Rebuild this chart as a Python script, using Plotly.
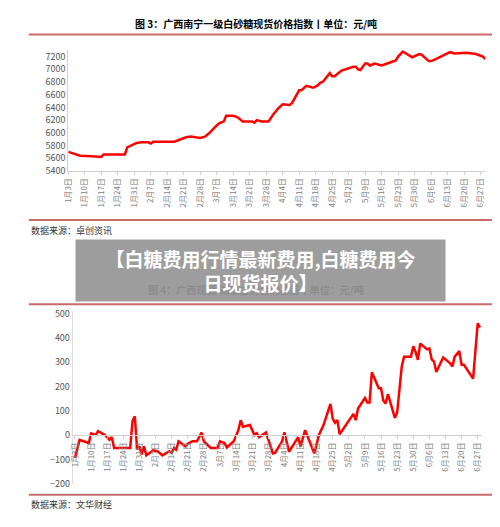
import plotly.graph_objects as go
import pandas as pd

# 广西南宁一级白砂糖现货价格指数 (day offset from 2022-01-03, value)
p_day = [0, 5, 10, 14, 15, 24, 25, 27, 29, 31, 34, 35, 36, 45, 48, 50, 52, 56, 58, 60, 62,
         64, 66, 67, 70, 72, 74, 78, 79, 80, 82, 85, 87, 89, 91, 94, 95, 98, 99, 101, 104,
         106, 107, 108, 111, 112, 113, 115, 116, 121, 122, 123, 124, 126, 127, 128, 130, 133,
         134, 136, 139, 140, 142, 143, 146, 149, 150, 153, 154, 156, 157, 161, 162, 164, 167,
         169, 173, 176, 177]
p_val = [5700, 5640, 5630, 5620, 5660, 5660, 5770, 5800, 5840, 5850, 5850, 5830, 5860, 5860,
         5900, 5930, 5940, 5920, 5940, 6000, 6080, 6150, 6180, 6270, 6270, 6240, 6180, 6180,
         6160, 6200, 6180, 6180, 6290, 6380, 6450, 6440, 6470, 6670, 6670, 6740, 6710, 6750,
         6790, 6800, 6940, 6890, 6890, 6960, 6980, 7040, 7040, 7000, 6990, 7090, 7090, 7060,
         7090, 7060, 7070, 7100, 7140, 7200, 7280, 7260, 7190, 7240, 7230, 7130, 7130, 7160,
         7180, 7260, 7270, 7250, 7260, 7260, 7240, 7200, 7160]

# 广西现货-郑糖主力合约基差
b_day = [0, 2, 6, 7, 9, 10, 13, 15, 16, 17, 24, 25, 26, 27, 28, 29, 30, 31, 34, 36, 38, 41,
         42, 43, 44, 45, 48, 49, 51, 53, 55, 56, 59, 62, 63, 65, 66, 69, 71, 72, 73, 76, 78,
         79, 80, 83, 86, 87, 90, 91, 93, 97, 98, 100, 104, 106, 108, 111, 112, 113, 114, 115,
         121, 122, 123, 126, 127, 128, 129, 132, 133, 134, 135, 136, 139, 140, 142, 143, 146,
         147, 148, 149, 150, 153, 154, 155, 156, 157, 160, 163, 164, 165, 167, 168, 169, 173,
         175, 176]
b_val = [-93, -19, -32, 8, 1, 17, 1, -19, -8, -52, -52, 58, 78, -58, -46, -79, -46, -83, -62,
         -66, -83, -66, -72, -52, -59, -25, -46, -35, -25, -25, 11, -25, -52, -52, -25, -32,
         -50, -25, 21, 62, 35, 42, 1, 8, -8, 11, -75, -72, -25, 12, -68, -8, -46, 21, -75, 1,
         42, 129, 68, 51, 62, 4, 88, 62, 110, 153, 135, 135, 259, 193, 193, 142, 131, 169, 71,
         95, 283, 323, 323, 366, 343, 310, 377, 353, 357, 312, 303, 260, 320, 296, 283, 323,
         346, 290, 290, 233, 460, 444]

tick_dates = pd.date_range("2022-01-03", "2022-06-27", freq="7D")
tick_text = [f"{d.month}月{d.day}日" for d in tick_dates]

start = pd.Timestamp("2022-01-03")
p_x = [start + pd.Timedelta(days=d) for d in p_day]
b_x = [start + pd.Timedelta(days=d) for d in b_day]

H = 527
def py(px):
    return 1 - px / H

cjk = "Noto Sans CJK SC"
red = "#ff0000"
rule = "#c76b6b"
tickfont = dict(family=cjk, size=8, color="#808080")

fig = go.Figure()
fig.add_trace(go.Scatter(x=p_x, y=p_val, mode="lines", line=dict(color=red, width=2.5),
                         xaxis="x", yaxis="y"))
fig.add_trace(go.Scatter(x=b_x, y=b_val, mode="lines", line=dict(color=red, width=2.5),
                         xaxis="x2", yaxis="y2"))

y2dom = [py(481), py(305)]
fig.update_layout(
    width=500, height=527, margin=dict(l=0, r=0, t=0, b=0),
    paper_bgcolor="white", plot_bgcolor="white", showlegend=False,
    xaxis=dict(domain=[55 / 500, 477 / 500], range=["2022-01-03", "2022-06-29"], anchor="y",
               tickvals=tick_dates, ticktext=tick_text, tickangle=-90, tickfont=tickfont,
               showgrid=False, showline=True, linecolor="#d0d0d0", ticks="outside",
               ticklen=3, tickcolor="#d0d0d0"),
    yaxis=dict(domain=[py(162), py(39)], range=[5400, 7300], anchor="x",
               tickvals=list(range(5400, 7201, 200)), tickfont=dict(family=cjk, size=9, color="#555"),
               showgrid=False, showline=True, linecolor="#d0d0d0"),
    xaxis2=dict(domain=[59.4 / 500, 474 / 500], range=["2022-01-02", "2022-06-29"],
                anchor="free", position=y2dom[0] + (y2dom[1] - y2dom[0]) * 200 / 710,
                tickvals=tick_dates, ticktext=tick_text, tickangle=-90, tickfont=tickfont,
                showgrid=False, showline=True, linecolor="#d0d0d0", ticks="outside",
                ticklen=3, tickcolor="#d0d0d0"),
    yaxis2=dict(domain=y2dom, range=[-200, 510], anchor="x2",
                tickvals=list(range(-200, 501, 100)), tickfont=dict(family=cjk, size=9, color="#555"),
                showgrid=False, showline=True, linecolor="#e0e0e0", zeroline=False),
)

for y in [23, 212, 298, 492]:
    fig.add_shape(type="line", xref="paper", yref="paper", x0=15 / 500, x1=485 / 500,
                  y0=py(y), y1=py(y), line=dict(color=rule, width=2))

def ann(text, x, y, size, color="black", bold=True, xanchor="center", **kw):
    fig.add_annotation(text=f"<b>{text}</b>" if bold else text, xref="paper", yref="paper",
                       x=x / 500, y=py(y), xanchor=xanchor, yanchor="middle", showarrow=False,
                       font=dict(family=cjk, size=size, color=color), **kw)

ann("图 3：广西南宁一级白砂糖现货价格指数丨单位：元/吨", 245, 12, 10)
ann("数据来源：卓创资讯", 15, 223, 9, color="#333", bold=False, xanchor="left")
ann("图 4：广西现货-郑糖主力合约基差丨单位：元/吨", 245, 283, 10)
ann("数据来源：文华财经", 15, 502, 9, color="#333", bold=False, xanchor="left")
ann("【白糖费用行情最新费用,白糖费用今<br>日现货报价】", 249.5, 263.5, 19, color="white",
    width=367, height=59, bgcolor="rgba(150,150,150,0.93)", align="center")

fig.write_html("out.html")
